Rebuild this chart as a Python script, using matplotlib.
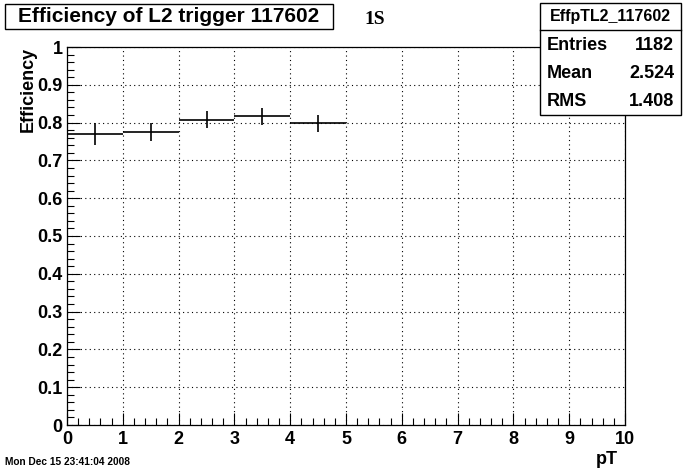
import numpy as np
import matplotlib.pyplot as plt
from matplotlib.ticker import MultipleLocator

plt.rcParams['font.family'] = ['Liberation Sans', 'DejaVu Sans']

# histogram content
bin_lo = [0, 1, 2, 3, 4]
bin_hi = [1, 2, 3, 4, 5]
eff = [0.771, 0.775, 0.808, 0.817, 0.798]
eff_err = [0.029, 0.024, 0.022, 0.0225, 0.0217]

x_ticks = [0, 1, 2, 3, 4, 5, 6, 7, 8, 9, 10]
y_ticks = [0, 0.1, 0.2, 0.3, 0.4, 0.5, 0.6, 0.7, 0.8, 0.9, 1]
y_labels = ['0', '0.1', '0.2', '0.3', '0.4', '0.5', '0.6', '0.7', '0.8', '0.9', '1']

stats_name = 'EffpTL2_117602'
stats = [('Entries', '1182'), ('Mean', '2.524'), ('RMS', '1.408')]

fig = plt.figure(figsize=(6.87, 4.70), dpi=100)
ax = fig.add_axes([67 / 687, 1 - 425 / 470, (625 - 67) / 687, (425 - 47) / 470])

centers = [(a + b) / 2 for a, b in zip(bin_lo, bin_hi)]
half = [(b - a) / 2 for a, b in zip(bin_lo, bin_hi)]
ax.errorbar(centers, eff, xerr=half, yerr=eff_err, fmt='none',
            ecolor='black', elinewidth=1.2, capsize=0)

ax.set_xlim(0, 10)
ax.set_ylim(0, 1)
ax.set_xticks(x_ticks)
ax.set_xticklabels([str(t) for t in x_ticks])
ax.set_yticks(y_ticks)
ax.set_yticklabels(y_labels)
ax.xaxis.set_minor_locator(MultipleLocator(0.2))
ax.yaxis.set_minor_locator(MultipleLocator(0.02))
ax.tick_params(which='both', direction='in', top=False, right=False, width=0.8)
ax.tick_params(which='major', length=9, labelsize=13)
ax.tick_params(axis='x', which='major', pad=4)
ax.tick_params(axis='y', which='major', pad=3)
ax.tick_params(which='minor', length=5)
for lbl in ax.get_xticklabels() + ax.get_yticklabels():
    lbl.set_fontweight('bold')
ax.grid(True, which='major', linestyle=(0, (1, 3)), color='black', linewidth=0.8)
for s in ax.spines.values():
    s.set_linewidth(0.9)

fig.text(28 / 687, 1 - 47 / 470, 'Efficiency', rotation=90, ha='center', va='top',
         fontsize=13, fontweight='bold')
fig.text(618 / 687, 1 - 460 / 470, 'pT', ha='right', va='center',
         fontsize=13, fontweight='bold')
fig.text(5 / 687, 1 - 462 / 470, 'Mon Dec 15 23:41:04 2008', ha='left', va='center',
         fontsize=7.3, fontweight='bold')

# title box
fig.patches.append(plt.Rectangle((5 / 687, 1 - 29 / 470), 328 / 687, 25 / 470,
                                 transform=fig.transFigure, fc='white', ec='black', lw=1))
fig.text(169 / 687, 1 - 16 / 470, 'Efficiency of L2 trigger 117602', ha='center', va='center',
         fontsize=15, fontweight='bold')
fig.text(375 / 687, 1 - 20 / 470, '1S', ha='center', va='center', fontsize=14,
         family='Liberation Serif', fontweight='bold')

# stats box
sx0, sx1, sy0, sy1 = 540 / 687, 681 / 687, 1 - 115 / 470, 1 - 3 / 470
fig.patches.append(plt.Rectangle((sx0, sy0), sx1 - sx0, sy1 - sy0, transform=fig.transFigure,
                                 fc='white', ec='black', lw=1, zorder=5))
fig.lines.append(plt.Line2D([sx0, sx1], [1 - 30 / 470] * 2, transform=fig.transFigure,
                            color='black', lw=1, zorder=6))
fig.text((sx0 + sx1) / 2, 1 - 17 / 470, stats_name, ha='center', va='center',
         fontsize=11.5, fontweight='bold', zorder=7)
for i, (k, v) in enumerate(stats):
    yy = 1 - (46 + 28 * i) / 470
    fig.text(547 / 687, yy, k, ha='left', va='center', fontsize=13, fontweight='bold', zorder=7)
    fig.text(674 / 687, yy, v, ha='right', va='center', fontsize=13, fontweight='bold', zorder=7)

fig.savefig('out.png', dpi=100)
